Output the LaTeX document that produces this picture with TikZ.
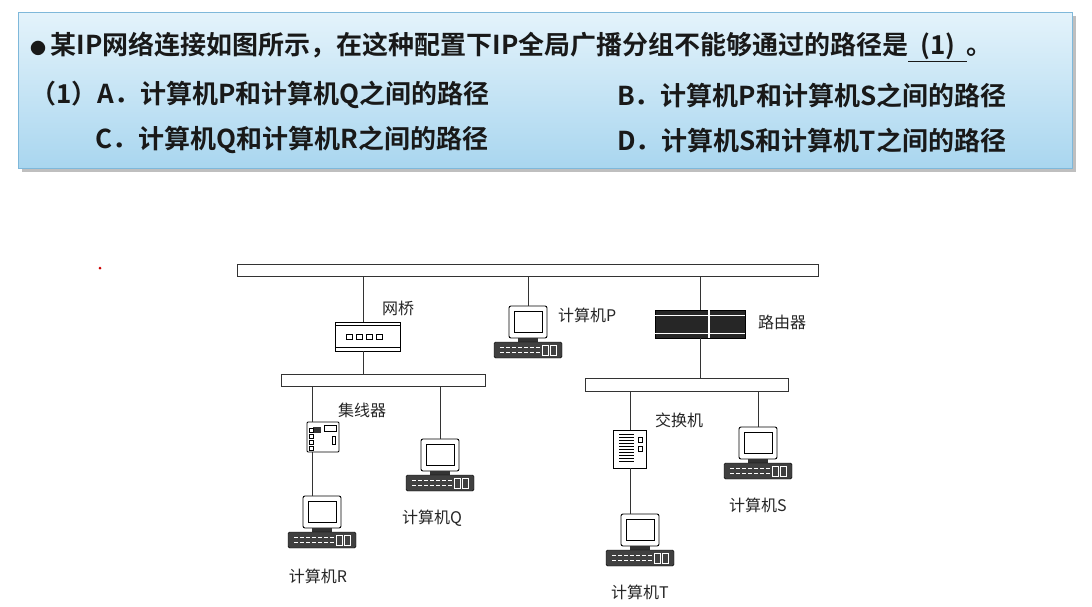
\documentclass[tikz,border=0pt]{standalone}
\usepackage{fontspec}
\newfontfamily\cjk{Noto Sans CJK SC}
\newfontfamily\cjkb{Noto Sans CJK SC Bold}
\definecolor{hdtop}{HTML}{E4F3FB}
\definecolor{hdbot}{HTML}{A9D6EF}
\definecolor{hdline}{HTML}{7FB8DA}
\begin{document}
\begin{tikzpicture}[x=1pt,y=-1pt,
  bus/.style={draw=black!80,fill=white,line width=0.8pt},
  wire/.style={draw=black!80,line width=0.8pt},
  lbl/.style={font=\cjk\fontsize{16}{18}\selectfont,text=black!85,inner sep=0pt},
  qtext/.style={font=\cjkb\fontsize{26}{30}\selectfont,text=black!90,anchor=west,inner sep=0pt},
  pics/computer/.style={code={
    \node[draw,line width=0.9pt,rounded corners=2pt,fill=white,minimum width=38pt,minimum height=32pt,inner sep=0pt] (-mon) at (0,0) {};
    \draw[line width=0.8pt] (-14,-11) rectangle (14,10);
    \fill[black!80] (-10,16) rectangle (10,20);
    \node[draw,fill=black!75,rounded corners=1.5pt,minimum width=68pt,minimum height=16pt,inner sep=0pt] (-kb) at (0,28) {};
    \foreach \i in {-28,-22,...,8} {\draw[white,line width=0.6pt] (\i,25) -- (\i+4,25); \draw[white,line width=0.6pt] (\i,30) -- (\i+4,30);}
    \draw[white,line width=0.8pt] (14,23) rectangle (20,33);
    \draw[white,line width=0.8pt] (22,23) rectangle (28,33);
  }}]
\useasboundingbox (0,0) rectangle (1092,606);
\fill[white] (0,0) rectangle (1092,606);
% header
\fill[black!25] (22,16) rectangle (1076,172);
\shade[top color=hdtop, bottom color=hdbot] (18,12) rectangle (1072,168);
\draw[hdline,line width=0.8pt] (18,12) rectangle (1072,168);
\node[qtext] (q0) at (30,47) {{\fontsize{16}{18}\selectfont ●}\,某IP网络连接如图所示，在这种配置下IP全局广播分组不能够通过的路径是\underline{\ \ (1)\ \ }。};
\node[qtext] (qa) at (30,95) {（1）A．计算机P和计算机Q之间的路径};
\node[qtext] (qb) at (617,95) {B．计算机P和计算机S之间的路径};
\node[qtext] (qc) at (95,140) {C．计算机Q和计算机R之间的路径};
\node[qtext] (qd) at (617,140) {D．计算机S和计算机T之间的路径};
\fill[red!80!black] (100,268) circle (1.5);
% buses
\node[bus,minimum width=581pt,minimum height=12pt,inner sep=0pt] (bus1) at (527.5,270) {};
\node[bus,minimum width=204pt,minimum height=12pt,inner sep=0pt] (bus2) at (383,380) {};
\node[bus,minimum width=203pt,minimum height=13pt,inner sep=0pt] (bus3) at (686.5,384.5) {};
% bridge
\node[draw,line width=0.9pt,fill=white,minimum width=65pt,minimum height=29pt,inner sep=0pt] (bridge) at (368,336.5) {};
\draw[line width=0.6pt] (bridge.north west)++(0,4) -- ++(65,0);
\draw[line width=0.6pt] (bridge.south west)++(0,-4) -- ++(65,0);
\foreach \i in {0,1,2,3} \draw[line width=0.8pt] (346+\i*10,334) rectangle ++(6,5);
\node[lbl,anchor=west] (lbridge) at (382,308) {网桥};
\draw[wire] (bridge.north -| 363,0) -- (363,276);
\draw[wire] (363,351) -- (363,374);
% router
\node[draw,line width=0.9pt,fill=black!85,minimum width=90pt,minimum height=28pt,inner sep=0pt] (router) at (700,324) {};
\draw[white,line width=1pt] (655,315) -- (745,315);
\draw[white,line width=1pt] (655,333) -- (745,333);
\draw[white,line width=1.2pt] (709,310) -- (709,338);
\node[lbl,anchor=west] (lrouter) at (758,322) {路由器};
\draw[wire] (700,276) -- (router.north);
\draw[wire] (router.south) -- (700,378);
% computer P
\pic (P) at (528,322) {computer};
\draw[wire] (528,276) -- (P-mon.north);
\node[lbl,anchor=west] (lP) at (558,315) {计算机P};
% hub
\node[draw,line width=0.9pt,fill=white,rounded corners=1pt,minimum width=32pt,minimum height=30pt,inner sep=0pt] (hub) at (323,437) {};
\fill[black!80] (313,427) rectangle (321,433);
\foreach \j in {428,434,440,446} \draw[line width=0.5pt] (309,\j) rectangle ++(4,4);
\draw[line width=0.5pt] (324,425) rectangle ++(12,6);
\draw[line width=0.5pt] (332,436) rectangle ++(3,8);
\node[lbl,anchor=west] (lhub) at (338,410) {集线器};
\draw[wire] (312,386) -- (312,422);
\pic (R) at (322,512) {computer};
\draw[wire] (312,452) -- (312,496);
\node[lbl] (lR) at (318,576) {计算机R};
% Q
\pic (Q) at (440,455) {computer};
\draw[wire] (440,386) -- (Q-mon.north);
\node[lbl] (lQ) at (432,518) {计算机Q};
% switch
\node[draw,line width=0.9pt,fill=white,minimum width=33pt,minimum height=38pt,inner sep=0pt] (switch) at (630,449) {};
\foreach \j in {434,437,...,462} \draw[line width=1pt] (619,\j) -- (634,\j);
\draw[line width=0.5pt] (638,437) rectangle ++(4,5);
\draw[line width=0.5pt] (638,446) rectangle ++(4,5);
\node[lbl,anchor=west] (lsw) at (655,420) {交换机};
\draw[wire] (630,391) -- (switch.north);
\pic (T) at (640,530) {computer};
\draw[wire] (switch.south) -- (T-mon.north -| 630,0);
\node[lbl] (lT) at (640,592) {计算机T};
% S
\pic (S) at (758,443) {computer};
\draw[wire] (758,391) -- (S-mon.north);
\node[lbl] (lS) at (758,505) {计算机S};
\end{tikzpicture}
\end{document}
